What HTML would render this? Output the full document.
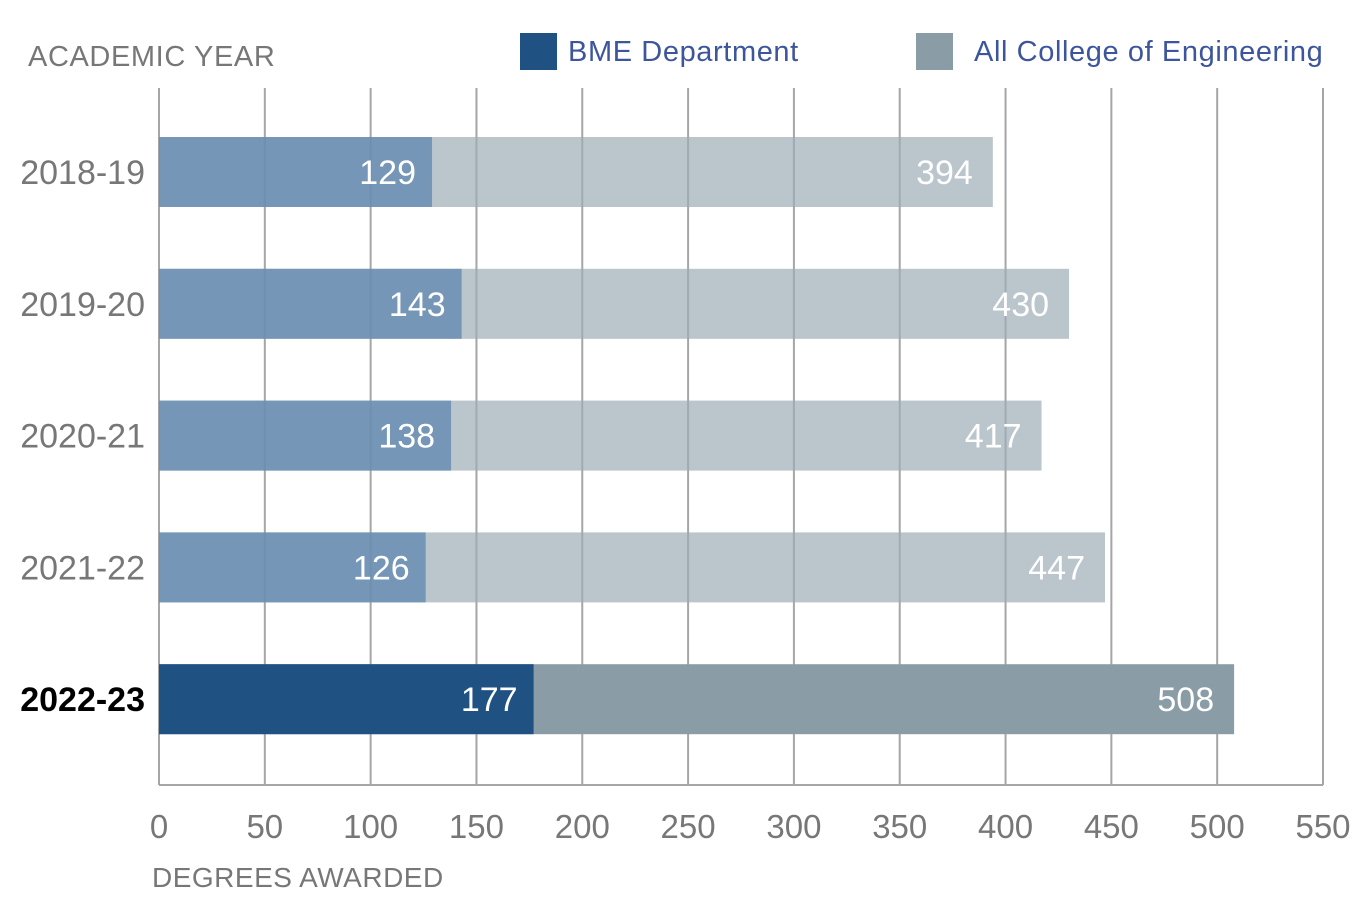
<!DOCTYPE html>
<html><head><meta charset="utf-8"><style>
body{margin:0;background:#fff}
svg{display:block;font-family:"Liberation Sans",sans-serif}
</style></head><body>
<svg id="c" width="1357" height="923" xmlns="http://www.w3.org/2000/svg">
<text x="28" y="66" font-size="29" fill="#777" letter-spacing="0.6">ACADEMIC YEAR</text>
<rect x="520" y="33" width="37" height="37" fill="#1f5283"/>
<text x="568" y="61" font-size="29" fill="#3d559c" letter-spacing="0.6">BME Department</text>
<rect x="916" y="33" width="37" height="37" fill="#8a9ca5"/>
<text x="974" y="61" font-size="29" fill="#3d559c" letter-spacing="0.6">All College of Engineering</text>
<text x="152" y="887" font-size="28" fill="#777" letter-spacing="0.5">DEGREES AWARDED</text>
<g id="grid"></g><g id="bars"></g><g id="ticks"></g>
</svg>
<script>
const years=["2018-19","2019-20","2020-21","2021-22","2022-23"];
const bme=[129,143,138,126,177];
const college=[394,430,417,447,508];
const xTicks=[0,50,100,150,200,250,300,350,400,450,500,550];
const NS="http://www.w3.org/2000/svg";
const x0=159,xMax=550,x1=1323;
const X=v=>x0+(v/xMax)*(x1-x0);
const Y=i=>172+i*131.8;
function mk(t,a,p){const e=document.createElementNS(NS,t);for(const k in a)e.setAttribute(k,a[k]);p.appendChild(e);return e;}
const grid=document.getElementById('grid'),bars=document.getElementById('bars'),ticks=document.getElementById('ticks');
xTicks.forEach(v=>{
  const l=mk('line',{x1:X(v),x2:X(v),y1:88,y2:785,stroke:'#a6a6a6','stroke-width':2},grid);
  
  
  const t=mk('text',{x:X(v),y:838,'font-size':33,fill:'#777','text-anchor':'middle'},ticks);
  t.textContent=v;
  
  
});
const base=mk('line',{x1:x0,x2:x1,y1:785,y2:785,stroke:'#a6a6a6','stroke-width':2},grid);


years.forEach((y,i)=>{
  const last=i===years.length-1;
  const cy=Y(i),h=70,top=cy-35;
  const c=mk('rect',{x:x0,y:top,width:X(college[i])-x0,height:h,fill:last?'#8a9ca5':'#9eacb6','fill-opacity':last?1:0.7},bars);
  
  
  const b=mk('rect',{x:x0,y:top,width:X(bme[i])-x0,height:h,fill:last?'#1f5283':'#6489b0','fill-opacity':last?1:0.8},bars);
  
  
  const lb=mk('text',{x:X(bme[i])-16,y:cy+12,'font-size':34,fill:'#fff','text-anchor':'end'},bars);
  lb.textContent=bme[i];
  
  
  const lc=mk('text',{x:X(college[i])-20,y:cy+12,'font-size':34,fill:'#fff','text-anchor':'end'},bars);
  lc.textContent=college[i];
  
  
  const yl=mk('text',{x:145,y:cy+12,'font-size':34,fill:last?'#000':'#777','text-anchor':'end','font-weight':last?'bold':'normal'},ticks);
  yl.textContent=y;
  
  
});
</script>
</body></html>
